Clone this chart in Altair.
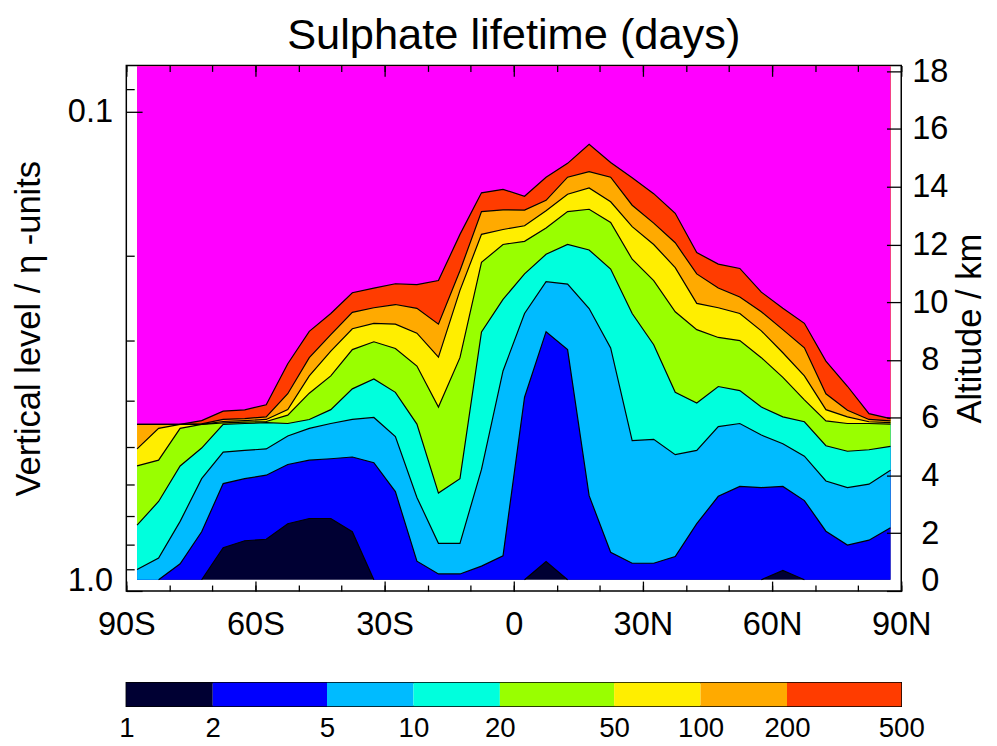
import json
import altair as alt
import pandas as pd

TITLE = "Sulphate lifetime (days)"
FONT = "Liberation Sans"

# latitude of the model grid columns (deg, negative = south)
LATS = [-87.5, -82.5, -77.5, -72.5, -67.5, -62.5, -57.5, -52.5, -47.5, -42.5,
        -37.5, -32.5, -27.5, -22.5, -17.5, -12.5, -7.5, -2.5, 2.5, 7.5,
        12.5, 17.5, 22.5, 27.5, 32.5, 37.5, 42.5, 47.5, 52.5, 57.5,
        62.5, 67.5, 72.5, 77.5, 82.5, 87.5]

FILL_BOTTOM_KM = 0.39   # lowest model level
FILL_TOP_KM = 18.17     # highest model level shown
Y_DOMAIN_KM = [0.0, 18.2]
X_DOMAIN = [-90, 90]

# contour levels (days) and band colours
LEVELS = [1, 2, 5, 10, 20, 50, 100, 200, 500]
BAND_COLORS = ["#000033", "#0000ff", "#00bbff", "#00ffdd", "#99ff00",
               "#ffee00", "#ffaa00", "#ff3c00", "#ff00ff"]

# altitude (km) of each contour line at each latitude column
B2 = [0.39, 0.39, 0.39, 0.39, 1.50, 1.74, 1.79, 2.33, 2.51, 2.51,
      2.05, 0.39, 0.39, 0.39, 0.39, 0.39, 0.39, 0.39, 0.39, 1.02,
      0.39, 0.39, 0.39, 0.39, 0.39, 0.39, 0.39, 0.39, 0.39, 0.39,
      0.71, 0.39, 0.39, 0.39, 0.39, 0.39]
B5 = [0.39, 0.39, 0.94, 2.05, 3.72, 3.89, 4.01, 4.38, 4.53, 4.58,
      4.64, 4.44, 3.44, 1.03, 0.59, 0.59, 0.86, 1.22, 6.71, 8.98,
      8.36, 3.30, 1.34, 0.96, 0.96, 1.19, 2.33, 3.28, 3.62, 3.58,
      3.62, 3.13, 2.07, 1.59, 1.76, 2.19]
B10 = [0.74, 1.14, 2.41, 3.89, 4.81, 4.87, 4.92, 5.37, 5.63, 5.80,
       5.94, 6.01, 5.35, 3.24, 1.65, 1.65, 4.21, 7.62, 9.61, 10.71,
       10.63, 9.78, 8.42, 5.21, 5.25, 4.72, 4.87, 5.69, 5.80, 5.40,
       5.10, 4.67, 3.81, 3.58, 3.70, 4.18]
B20 = [2.28, 3.10, 4.33, 4.95, 5.77, 5.80, 5.83, 5.80, 5.94, 6.28,
       7.00, 7.34, 6.88, 5.78, 3.39, 3.89, 8.97, 10.10, 10.98, 11.66,
       12.00, 11.81, 11.15, 9.61, 8.53, 6.88, 6.51, 7.08, 6.94, 6.37,
       6.03, 5.86, 5.03, 4.84, 4.89, 5.01]
B50 = [4.33, 4.53, 5.63, 5.77, 5.82, 5.85, 5.87, 6.09, 6.85, 7.45,
       8.36, 8.63, 8.40, 7.79, 6.37, 8.08, 11.38, 12.00, 12.11, 12.57,
       13.14, 13.22, 12.76, 11.49, 10.75, 9.67, 9.05, 8.78, 8.67, 8.08,
       7.40, 6.62, 5.89, 5.80, 5.80, 5.78]
B100 = [4.92, 5.63, 5.77, 5.77, 5.87, 5.90, 5.94, 6.28, 7.45, 8.31,
        9.08, 9.27, 9.24, 8.93, 8.10, 10.41, 12.35, 12.52, 12.65, 13.17,
        13.74, 13.96, 13.48, 12.62, 12.00, 11.20, 9.96, 9.81, 9.61, 9.01,
        8.25, 7.45, 6.28, 6.03, 5.86, 5.83]
B200 = [5.77, 5.77, 5.77, 5.79, 5.94, 5.97, 6.03, 6.83, 8.08, 8.88,
        9.65, 9.81, 9.92, 9.79, 9.24, 11.09, 13.14, 13.20, 13.19, 13.53,
        14.33, 14.52, 14.33, 13.36, 12.74, 12.06, 10.98, 10.49, 10.18, 9.67,
        9.05, 8.42, 6.83, 6.26, 5.94, 5.89]
B500 = [5.77, 5.77, 5.77, 5.90, 6.23, 6.27, 6.45, 7.87, 8.99, 9.61,
        10.33, 10.49, 10.64, 10.61, 10.75, 12.35, 13.79, 13.91, 13.67, 14.33,
        14.81, 15.47, 14.84, 14.31, 13.76, 13.08, 11.72, 11.32, 11.17, 10.35,
        9.79, 9.27, 7.96, 7.09, 6.14, 5.97]
BOUNDARIES = [B2, B5, B10, B20, B50, B100, B200, B500]

# axis ticks and labels
X_TICK_VALUES = [-90, -60, -30, 0, 30, 60, 90]
X_TICK_LABELS = ["90S", "60S", "30S", "0", "30N", "60N", "90N"]
X_MINOR_TICKS = [-90, -80, -70, -60, -50, -40, -30, -20, -10, 0,
                 10, 20, 30, 40, 50, 60, 70, 80, 90]
ETA_TICK_KM = [16.60, 0.0]
ETA_TICK_LABELS = ["0.1", "1.0"]
ETA_MINOR_KM = [17.37, 11.60, 8.67, 6.60, 4.99, 3.70, 2.60, 1.61, 0.76]
ALT_TICKS_KM = [0, 2, 4, 6, 8, 10, 12, 14, 16, 18]


def label_expr(values, labels):
    return f"{json.dumps(labels)}[indexof({json.dumps(values)}, datum.value)]"


# ---- tables built from the arrays above ----
area_rows = []
lows = [[FILL_BOTTOM_KM] * len(LATS)] + BOUNDARIES
for band, low in enumerate(lows):
    for lat, lo in zip(LATS, low):
        area_rows.append({"lat": lat, "lo": lo, "hi": FILL_TOP_KM, "band": band})
area_df = pd.DataFrame(area_rows)

line_rows = []
for bi, arr in enumerate(BOUNDARIES):
    n = len(LATS)
    keep = [not (arr[i] <= FILL_BOTTOM_KM and arr[i + 1] <= FILL_BOTTOM_KM)
            for i in range(n - 1)]
    run = 0
    i = 0
    while i < n - 1:
        if not keep[i]:
            i += 1
            continue
        j = i
        while j < n - 1 and keep[j]:
            j += 1
        seg = f"{bi}-{run}"
        for p in range(i, j + 1):
            line_rows.append({"lat": LATS[p], "km": arr[p], "seg": seg, "ord": p})
        run += 1
        i = j
line_df = pd.DataFrame(line_rows)

x_scale = alt.Scale(domain=X_DOMAIN, nice=False, zero=False)
y_scale = alt.Scale(domain=Y_DOMAIN_KM, nice=False, zero=False)

tick_style = dict(domain=False, grid=False, tickColor="black", tickWidth=1.3,
                  zindex=1)
label_style = dict(labelColor="black", labelFont=FONT, labelFontSize=33)

x_bottom_major = alt.Axis(orient="bottom", values=X_TICK_VALUES,
                          labelExpr=label_expr(X_TICK_VALUES, X_TICK_LABELS),
                          tickSize=10, offset=-10, labelPadding=18,
                          labelFlush=False, labelOverlap=False, title=None,
                          **tick_style, **label_style)
x_bottom_minor = alt.Axis(orient="bottom", values=X_MINOR_TICKS, labels=False,
                          tickSize=6, offset=-6, title=None, **tick_style)
x_top_major = alt.Axis(orient="top", values=X_TICK_VALUES, labels=False,
                       tickSize=11, offset=-11, title=None, **tick_style)
x_top_minor = alt.Axis(orient="top", values=X_MINOR_TICKS, labels=False,
                       tickSize=6, offset=-6, title=None, **tick_style)
y_left_major = alt.Axis(orient="left", values=ETA_TICK_KM,
                        labelExpr=label_expr(ETA_TICK_KM, ETA_TICK_LABELS),
                        tickSize=16, offset=-16, labelPadding=14,
                        labelFlush=True, labelFlushOffset=7, labelOverlap=False,
                        title="Vertical level / η -units", titleFont=FONT,
                        titleFontSize=35, titleFontWeight="normal",
                        titleColor="black", titlePadding=21,
                        **tick_style, **label_style)
y_left_minor = alt.Axis(orient="left", values=ETA_MINOR_KM, labels=False,
                        tickSize=8, offset=-8, title=None, **tick_style)
y_right = alt.Axis(orient="right", values=ALT_TICKS_KM, tickSize=15, offset=-15,
                   labelPadding=29, labelAlign="center", labelFlush=True,
                   labelFlushOffset=7, labelOverlap=False,
                   title="Altitude / km", titleFont=FONT, titleFontSize=35,
                   titleFontWeight="normal", titleColor="black",
                   titleAngle=270, titleBaseline="alphabetic", titlePadding=33,
                   **tick_style, **label_style)

layers = []
for band in range(len(BAND_COLORS)):
    if band == 0:
        xa, ya = x_bottom_major, y_left_major
    elif band == 1:
        xa, ya = x_top_major, y_right
    elif band == 2:
        xa, ya = x_top_minor, None
    else:
        xa, ya = None, None
    layers.append(
        alt.Chart(area_df)
        .transform_filter(alt.datum.band == band)
        .mark_area(color=BAND_COLORS[band], interpolate="linear")
        .encode(
            x=alt.X("lat:Q", scale=x_scale, axis=xa),
            y=alt.Y("lo:Q", scale=y_scale, axis=ya),
            y2="hi:Q",
        )
    )

lines = alt.Chart(line_df).mark_line(color="black", strokeWidth=1.2).encode(
    x=alt.X("lat:Q", scale=x_scale, axis=x_bottom_minor),
    y=alt.Y("km:Q", scale=y_scale, axis=y_left_minor),
    detail="seg:N",
    order="ord:Q",
)
layers.append(lines)

main = alt.layer(*layers).resolve_axis(x="independent", y="independent").properties(
    width=786, height=533,
    title=alt.TitleParams(TITLE, font=FONT, fontSize=44, fontWeight="normal",
                          color="black", anchor="middle", frame="group", offset=-2),
)

cb_df = pd.DataFrame({
    "lo": LEVELS[:-1],
    "hi": LEVELS[1:],
    "band": [str(i) for i in range(len(LEVELS) - 1)],
})
colorbar = alt.Chart(cb_df).mark_rect().encode(
    x=alt.X("lo:Q",
            scale=alt.Scale(type="log", domain=[LEVELS[0], LEVELS[-1]], nice=False),
            axis=alt.Axis(values=LEVELS, format="d", ticks=False, domain=False,
                          grid=False, labelPadding=9,
                          labelFont="Liberation Sans Narrow, Liberation Sans",
                          labelFontSize=28, labelColor="black", labelFlush=False,
                          labelOverlap=False, title=None)),
    x2="hi:Q",
    color=alt.Color("band:N",
                    scale=alt.Scale(domain=list(cb_df["band"]),
                                    range=BAND_COLORS[:len(LEVELS) - 1]),
                    legend=None),
).properties(width=786, height=24)

chart = (
    alt.vconcat(main, colorbar, spacing=40)
    .properties(padding={"left": 3, "top": 0, "right": 0, "bottom": 0})
    .configure(font=FONT)
    .configure_view(stroke="black", strokeWidth=1.5)
)

chart.save("out.html", embed_options={"renderer": "svg", "actions": False})
